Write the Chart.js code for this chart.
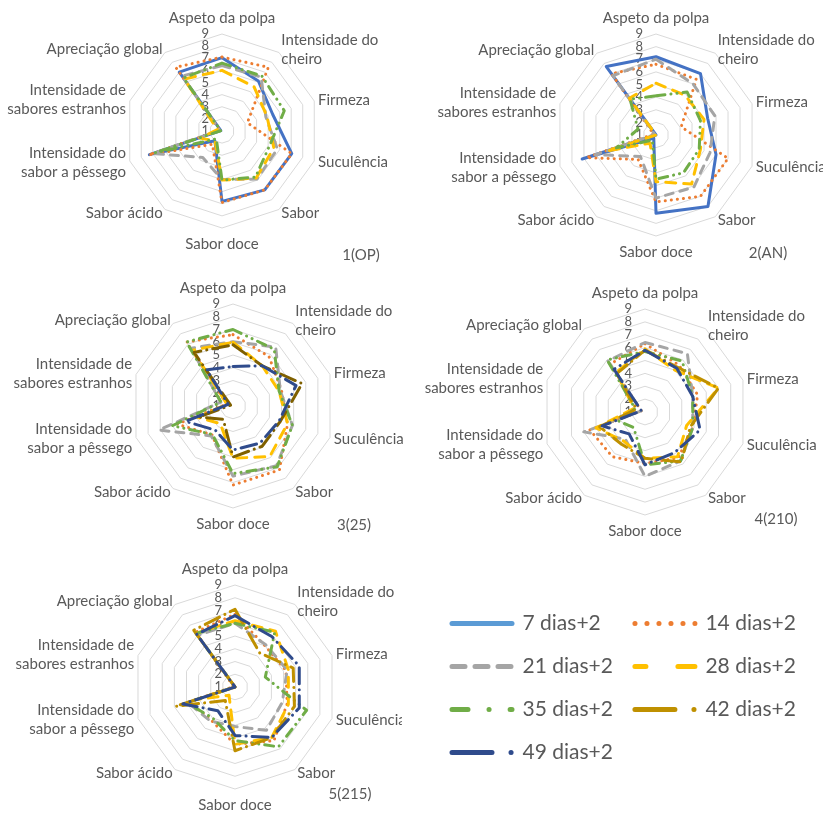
<!DOCTYPE html>
<html lang="pt">
<head>
  <meta charset="UTF-8">
  <title>Perfil sensorial por tempo de conservação</title>
  <script src="https://cdn.jsdelivr.net/npm/chart.js"></script>
  <style>
    body {
      margin: 0;
      width: 823px;
      height: 814px;
      overflow: hidden;
      position: relative;
      background: #fff;
    }

    canvas {
      position: absolute;
    }
  </style>
</head>
<body>
  <canvas id="chartOP"></canvas>
  <canvas id="chartAN"></canvas>
  <canvas id="chart25"></canvas>
  <canvas id="chart210"></canvas>
  <canvas id="chart215"></canvas>
  <canvas id="legendBox"></canvas>

  <script>
    // Axes of every radar (two-line labels as arrays)
    const categories = [
      ['Aspeto da polpa'],
      ['Intensidade do', 'cheiro'],
      ['Firmeza'],
      ['Suculência'],
      ['Sabor'],
      ['Sabor doce'],
      ['Sabor ácido'],
      ['Intensidade do', 'sabor a pêssego'],
      ['Intensidade de', 'sabores estranhos'],
      ['Apreciação global']
    ];
    const seriesNames = ['7 dias+2', '14 dias+2', '21 dias+2', '28 dias+2', '35 dias+2', '42 dias+2', '49 dias+2'];
    const tickValues = [1, 2, 3, 4, 5, 6, 7, 8, 9];

    // Scores, one row per series (null = series not in that panel)
    const valuesOP = [
      [7.05, 6.1, 5.4, 7.05, 7.0, 6.8, 2.0, 7.3, 1.1, 7.0],
      [7.1, 7.5, 3.2, 7.05, 7.0, 6.9, 2.35, 7.35, 1.2, 7.5],
      [6.4, 6.5, 4.8, 5.8, 5.9, 5.0, 3.7, 7.0, 1.2, 6.6],
      [6.0, 5.5, 4.9, 5.5, 5.8, 5.05, 2.0, 2.9, 1.4, 6.3],
      [6.6, 6.6, 6.4, 5.1, 5.7, 5.05, 1.8, 6.8, 1.1, 6.4],
      null,
      null
    ];
    const valuesAN = [
      [7.2, 7.0, 5.3, 6.0, 8.0, 7.2, 1.3, 7.15, 1.0, 7.7],
      [6.6, 6.45, 3.1, 7.0, 7.0, 6.3, 3.4, 6.8, 1.2, 7.0],
      [7.0, 6.0, 5.9, 5.5, 6.1, 6.0, 3.1, 6.05, 1.1, 6.8],
      [5.1, 4.9, 5.0, 4.7, 5.8, 4.7, 1.8, 5.1, 1.0, 4.6],
      [4.1, 5.2, 4.7, 4.6, 4.7, 4.5, 1.5, 4.3, 2.5, 4.5],
      null,
      null
    ];
    const values25 = [
      null,
      [6.6, 5.8, 5.0, 5.5, 7.2, 7.2, 3.8, 5.6, 1.5, 7.2],
      [6.05, 6.7, 4.9, 5.9, 6.8, 6.5, 3.9, 7.1, 2.0, 6.6],
      [6.0, 4.9, 4.8, 5.5, 5.9, 5.1, 2.7, 3.9, 1.5, 6.4],
      [7.0, 6.5, 4.8, 5.9, 6.9, 6.3, 3.75, 6.0, 2.0, 7.2],
      [5.8, 4.9, 6.7, 4.9, 4.9, 5.0, 2.3, 3.8, 1.2, 6.2],
      [4.1, 4.9, 6.2, 4.8, 4.6, 4.45, 3.35, 4.9, 1.4, 4.5]
    ];
    const values210 = [
      null,
      [6.3, 5.5, 5.3, 4.9, 5.4, 5.0, 5.3, 5.5, 1.3, 5.6],
      [6.4, 6.6, 4.9, 4.9, 5.7, 6.0, 3.6, 6.0, 1.3, 5.9],
      [5.9, 5.0, 7.0, 4.4, 5.3, 4.6, 3.8, 5.0, 1.9, 4.8],
      [5.7, 5.9, 4.9, 4.9, 5.7, 5.1, 2.5, 3.2, 1.8, 6.0],
      [5.8, 5.3, 7.0, 4.7, 5.8, 4.6, 4.1, 4.7, 1.7, 4.7],
      [5.8, 5.2, 4.9, 5.5, 4.9, 5.1, 3.1, 4.5, 1.3, 5.1]
    ];
    const values215 = [
      null,
      [6.7, 5.0, 5.2, 5.3, 6.2, 5.5, 4.2, 4.8, 1.1, 6.3],
      [6.0, 5.1, 5.3, 4.9, 5.2, 4.1, 4.3, 4.9, 1.0, 6.0],
      [6.2, 6.4, 5.4, 5.4, 5.9, 5.5, 1.8, 4.2, 1.0, 6.2],
      [6.0, 6.3, 3.5, 6.9, 6.8, 5.2, 4.0, 5.0, 1.0, 6.2],
      [7.1, 4.3, 5.8, 5.9, 5.9, 6.0, 2.3, 5.9, 1.0, 6.5],
      [6.6, 5.9, 6.3, 6.3, 5.9, 4.8, 3.3, 5.3, 1.0, 6.1]
    ];

    // Excel-like line styles
    const TEXT = '#595959';
    const FONT = 'Lato, "Open Sans", sans-serif';
    const seriesColors = ['#4472C4', '#ED7D31', '#A5A5A5', '#FFC000', '#70AD47', '#BF9000', '#2F4B8C'];
    const seriesDash = [[], [0.1, 6], [8, 7], [10, 8], [9, 6, 0.1, 6, 0.1, 6], [16, 6, 0.1, 6], [16, 6, 0.1, 6]];
    const legendColors = ['#5B9BD5', '#ED7D31', '#A5A5A5', '#FFC000', '#70AD47', '#BF9000', '#2F4B8C'];
    const legendDash = [[], [0.1, 11.9], [13, 10], [11, 32, 30, 5], [16, 21, 0.1, 21], [40, 19, 0.1, 10], [40, 19, 0.1, 10]];
    const legendSlot = [0, 4, 1, 5, 2, 6, 3];

    Chart.defaults.font.family = FONT;
    Chart.defaults.color = TEXT;

    const panels = [
      { id: 'chartOP', left: 0, top: 0, width: 411, height: 270, cx: 222, cy: 131, r: 97, tag: '1(OP)', tagX: 361, tagY: 255, values: valuesOP },
      { id: 'chartAN', left: 411, top: 0, width: 412, height: 270, cx: 656, cy: 135, r: 101, tag: '2(AN)', tagX: 768, tagY: 253, values: valuesAN },
      { id: 'chart25', left: 0, top: 270, width: 411, height: 275, cx: 233, cy: 406, r: 102, tag: '3(25)', tagX: 354, tagY: 525, values: values25, colors: { 5: '#7F6000' } },
      { id: 'chart210', left: 411, top: 270, width: 412, height: 275, cx: 645, cy: 412, r: 103, tag: '4(210)', tagX: 776, tagY: 519, values: values210 },
      { id: 'chart215', left: 0, top: 545, width: 402, height: 269, cx: 235, cy: 687, r: 102, tag: '5(215)', tagX: 350, tagY: 794, values: values215 }
    ];

    // Axis labels, tick numbers and panel tag, placed like Excel does
    const radarText = {
      id: 'radarText',
      beforeDatasetsDraw(chart, args, opts) {
        const scale = chart.scales.r;
        const ctx = chart.ctx;
        const n = categories.length;
        ctx.save();
        ctx.fillStyle = TEXT;
        ctx.textBaseline = 'middle';

        ctx.font = '13px ' + FONT;
        ctx.textAlign = 'right';
        tickValues.forEach(v => {
          ctx.fillText(String(v), scale.xCenter - 13, scale.yCenter - scale.getDistanceFromCenterForValue(v));
        });

        ctx.font = '15px ' + FONT;
        categories.forEach((lines, i) => {
          const deg = i * 360 / n;
          const vertical = deg === 0 || deg === 180;
          const p = scale.getPointPosition(i, scale.drawingArea + (vertical ? 16 : 4));
          ctx.textAlign = vertical ? 'center' : (deg < 180 ? 'left' : 'right');
          lines.forEach((t, k) => {
            ctx.fillText(t, p.x, p.y + (k - (lines.length - 1) / 2) * 19);
          });
        });

        ctx.textAlign = 'center';
        ctx.fillText(opts.tag, opts.x, opts.y);
        ctx.restore();
      }
    };

    function makeRadar(p) {
      const canvas = document.getElementById(p.id);
      canvas.width = p.width;
      canvas.height = p.height;
      canvas.style.left = p.left + 'px';
      canvas.style.top = p.top + 'px';

      const datasets = [];
      p.values.forEach((row, i) => {
        if (!row) return;
        datasets.push({
          label: seriesNames[i],
          data: row,
          borderColor: (p.colors && p.colors[i]) || seriesColors[i],
          borderWidth: 3,
          borderDash: seriesDash[i],
          borderCapStyle: 'round',
          borderJoinStyle: 'round',
          fill: false,
          pointRadius: 0,
          tension: 0,
          order: 10 - i
        });
      });

      new Chart(canvas, {
        type: 'radar',
        data: { labels: categories, datasets: datasets },
        options: {
          responsive: false,
          animation: false,
          events: [],
          layout: {
            padding: {
              left: p.cx - p.r - p.left,
              top: p.cy - p.r - p.top,
              right: p.left + p.width - (p.cx + p.r),
              bottom: p.top + p.height - (p.cy + p.r)
            }
          },
          scales: {
            r: {
              min: 1,
              max: 9,
              ticks: { display: false, stepSize: 1 },
              grid: { color: '#D9D9D9', lineWidth: 1 },
              angleLines: { display: false },
              pointLabels: { display: false }
            }
          },
          plugins: {
            legend: { display: false },
            tooltip: { enabled: false },
            radarText: { tag: p.tag, x: p.tagX - p.left, y: p.tagY - p.top }
          }
        },
        plugins: [radarText]
      });
    }

    panels.forEach(makeRadar);

    // Shared legend, two columns like the original
    const legendCanvas = document.getElementById('legendBox');
    legendCanvas.width = 390;
    legendCanvas.height = 220;
    legendCanvas.style.left = '430px';
    legendCanvas.style.top = '591px';

    new Chart(legendCanvas, {
      type: 'line',
      data: {
        labels: [],
        datasets: seriesNames.map((name, i) => ({
          label: name,
          data: [],
          borderColor: legendColors[i],
          borderWidth: 5,
          borderDash: legendDash[i],
          borderCapStyle: 'round'
        }))
      },
      options: {
        responsive: false,
        animation: false,
        events: [],
        layout: { padding: 0 },
        scales: { x: { display: false }, y: { display: false } },
        plugins: {
          tooltip: { enabled: false },
          legend: {
            position: 'left',
            align: 'start',
            maxWidth: 390,
            labels: {
              usePointStyle: true,
              pointStyle: 'line',
              pointStyleWidth: 60,
              padding: 22,
              color: TEXT,
              font: { family: FONT, size: 21 },
              generateLabels(chart) {
                const items = Chart.defaults.plugins.legend.labels.generateLabels(chart);
                items.forEach(item => {
                  const ds = chart.data.datasets[item.datasetIndex];
                  item.lineDash = ds.borderDash;
                  item.lineCap = 'round';
                  item.lineWidth = ds.borderWidth;
                  item.strokeStyle = ds.borderColor;
                });
                return items;
              },
              sort: (a, b) => legendSlot[a.datasetIndex] - legendSlot[b.datasetIndex]
            }
          }
        }
      }
    });
  </script>
</body>
</html>
